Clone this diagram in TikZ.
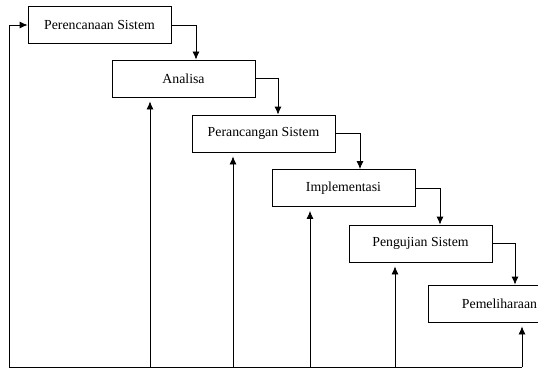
\documentclass[tikz,border=0pt]{standalone}
\usepackage{fontspec}
\setmainfont{Liberation Serif}
\usetikzlibrary{arrows.meta}

\begin{document}
\begin{tikzpicture}[x=1pt,y=-1pt,
    tahap/.style={draw, line width=0.8pt, minimum width=143pt, minimum height=37pt,
        inner sep=0pt, font=\fontsize{13.8}{16}\selectfont},
    alur/.style={line width=0.8pt, -{Latex[length=8pt,width=7pt]}},
    balik/.style={alur, shorten >=4pt}]
    \useasboundingbox (0,0) rectangle (538,369);

    % Tahapan
    \node[tahap] (perencanaan) at (99.5,25) {Perencanaan Sistem};
    \node[tahap] (analisa) at (183.5,78.5) {Analisa};
    \node[tahap] (perancangan) at (263.5,133.5) {Perancangan Sistem};
    \node[tahap] (implementasi) at (343.5,188) {Implementasi};
    \node[tahap] (pengujian) at (420.5,243.5) {Pengujian Sistem};
    \node[tahap] (pemeliharaan) at (499.5,303.5) {Pemeliharaan};

    % Titik belok alur turun
    \coordinate (t1) at (196,0);
    \coordinate (t2) at (278,0);
    \coordinate (t3) at (360,0);
    \coordinate (t4) at (440,0);
    \coordinate (t5) at (515,0);

    % Alur turun
    \draw[alur] (perencanaan.east) -| (t1 |- analisa.north);
    \draw[alur] (analisa.east) -| (t2 |- perancangan.north);
    \draw[alur] (perancangan.east) -| (t3 |- implementasi.north);
    \draw[alur] (implementasi.east) -| (t4 |- pengujian.north);
    \draw[alur] (pengujian.east) -| (t5 |- pemeliharaan.north);

    % Garis dasar umpan balik
    \coordinate (kiri) at (9,367);
    \coordinate (u1) at (150,367);
    \coordinate (u2) at (233,367);
    \coordinate (u3) at (310,367);
    \coordinate (u4) at (395,367);
    \coordinate (u5) at (522,367);
    \draw[line width=0.8pt] (u5) -- (kiri);

    % Alur balik
    \draw[alur] (kiri) |- (perencanaan.west);
    \draw[balik] (u1) -- (u1 |- analisa.south);
    \draw[balik] (u2) -- (u2 |- perancangan.south);
    \draw[balik] (u3) -- (u3 |- implementasi.south);
    \draw[balik] (u4) -- (u4 |- pengujian.south);
    \draw[balik] (u5) -- (u5 |- pemeliharaan.south);
\end{tikzpicture}
\end{document}
